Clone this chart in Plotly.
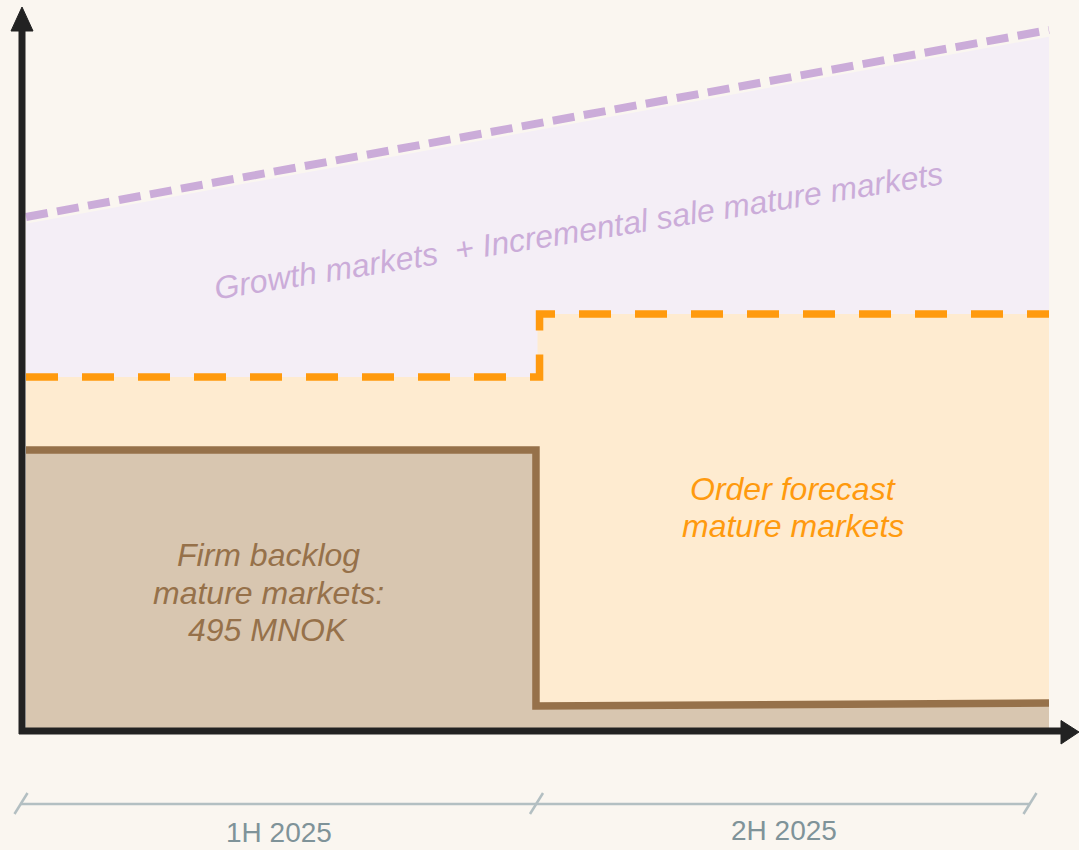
import plotly.graph_objects as go

# ---------------- data (schematic units, baseline = 0) ----------------
periods = ["1H 2025", "2H 2025"]
period_edges = [0, 1, 2]
backlog_1h = 278            # firm backlog level in 1H
backlog_2h = [22, 25]       # firm backlog level in 2H (start, end)
order_forecast = [351, 414] # order forecast level 1H, 2H
growth_total = [511, 698]   # growth + incremental (start, end)

backlog_label = ["Firm backlog", "mature markets:", "495 MNOK"]
forecast_label = ["Order forecast", "mature markets"]
growth_label = "Growth markets\u00a0\u00a0+ Incremental sale mature markets"

# ---------------- styling ----------------
BG = "#FAF6F0"
PURPLE_FILL = "#F4EEF6"
PURPLE = "#CBACD9"
ORANGE_FILL = "#FEEBD0"
ORANGE = "#FF9A0E"
BROWN_FILL = "#D8C6B0"
BROWN = "#96714A"
AXIS = "#222222"
GREY_LINE = "#B3BFC2"
GREY_TEXT = "#7F9399"
FONT = "Liberation Sans, Arial, sans-serif"

W, H = 1079, 850
X0_PX, UNIT_PX = 26, 511.5   # pixel of x=0, pixels per period
BASE_PX = 728                # pixel of y=0


def X(px):
    return (px - X0_PX) / UNIT_PX


def Y(py):
    return BASE_PX - py


x_start, x_mid, x_end = period_edges

fig = go.Figure()

# purple area (growth) down to baseline
fig.add_trace(go.Scatter(
    x=[x_start, x_end, x_end, x_start], y=[growth_total[0], growth_total[1], 0, 0],
    fill="toself", fillcolor=PURPLE_FILL, line=dict(width=0), mode="lines",
    hoverinfo="skip", showlegend=False))
# orange area (forecast)
fig.add_trace(go.Scatter(
    x=[x_start, x_mid, x_mid, x_end, x_end, x_start],
    y=[order_forecast[0], order_forecast[0], order_forecast[1], order_forecast[1], 0, 0],
    fill="toself", fillcolor=ORANGE_FILL, line=dict(width=0), mode="lines",
    hoverinfo="skip", showlegend=False))
# brown area (backlog)
fig.add_trace(go.Scatter(
    x=[x_start, x_mid, x_mid, x_end, x_end, x_start],
    y=[backlog_1h, backlog_1h, backlog_2h[0], backlog_2h[1], 0, 0],
    fill="toself", fillcolor=BROWN_FILL, line=dict(width=0), mode="lines",
    hoverinfo="skip", showlegend=False))

# purple dashed line with background halo
fig.add_trace(go.Scatter(
    x=[x_start, x_end], y=growth_total, mode="lines",
    line=dict(color=BG, width=13), hoverinfo="skip", showlegend=False))
fig.add_trace(go.Scatter(
    x=[x_start, x_end], y=growth_total, mode="lines",
    line=dict(color=PURPLE, width=8, dash="22px,9.5px"), hoverinfo="skip", showlegend=False))

# orange dashed step
fig.add_trace(go.Scatter(
    x=[x_start, x_mid + 0.004, x_mid + 0.004, x_end],
    y=[order_forecast[0], order_forecast[0], order_forecast[1], order_forecast[1]],
    mode="lines", line=dict(color=ORANGE, width=7.5, dash="32px,24px"),
    hoverinfo="skip", showlegend=False))

# brown step line
fig.add_trace(go.Scatter(
    x=[x_start, x_mid - 0.003, x_mid - 0.003, x_end],
    y=[backlog_1h, backlog_1h, backlog_2h[0], backlog_2h[1]],
    mode="lines", line=dict(color=BROWN, width=7.5),
    hoverinfo="skip", showlegend=False))

shapes = []
# axes
shapes.append(dict(type="line", xref="x", yref="y", x0=X(22), x1=X(22), y0=Y(734), y1=Y(28),
                   line=dict(color=AXIS, width=7)))
shapes.append(dict(type="line", xref="x", yref="y", x0=X(19), x1=X(1064), y0=Y(731), y1=Y(731),
                   line=dict(color=AXIS, width=7)))


def tri(pts):
    d = "M " + " L ".join(f"{X(a)},{Y(b)}" for a, b in pts) + " Z"
    return dict(type="path", xref="x", yref="y", path=d, fillcolor=AXIS,
                line=dict(color=AXIS, width=1))


shapes.append(tri([(22, 7), (11, 31), (33, 31)]))
shapes.append(tri([(1079, 732), (1061, 720.5), (1061, 744)]))

# timeline
tl_left, tl_right = 21, 1030
shapes.append(dict(type="line", xref="x", yref="y", x0=X(tl_left), x1=X(tl_right), y0=Y(804), y1=Y(804),
                   line=dict(color=GREY_LINE, width=2.5)))
for tx in [tl_left, X0_PX + UNIT_PX * x_mid - 1, tl_right]:
    shapes.append(dict(type="line", xref="x", yref="y", x0=X(tx - 6.5), x1=X(tx + 6.5),
                       y0=Y(814), y1=Y(793), line=dict(color=GREY_LINE, width=2.5)))

annotations = []
seg_centers = [(tl_left + X0_PX + UNIT_PX * x_mid) / 2, (X0_PX + UNIT_PX * x_mid + tl_right) / 2]
for lbl, cx, cy in zip(periods, seg_centers, [832, 830]):
    annotations.append(dict(x=X(cx), y=Y(cy), xref="x", yref="y", text=lbl, showarrow=False,
                            xanchor="center", yanchor="middle",
                            font=dict(family=FONT, size=28, color=GREY_TEXT)))

for i, line in enumerate(backlog_label):
    annotations.append(dict(x=X(268), y=Y(555 + 37.5 * i), xref="x", yref="y",
                            text=f"<i>{line}</i>", showarrow=False, xanchor="center", yanchor="middle",
                            font=dict(family=FONT, size=32, color=BROWN)))
for i, line in enumerate(forecast_label):
    annotations.append(dict(x=X(793), y=Y(489 + 36.5 * i), xref="x", yref="y",
                            text=f"<i>{line}</i>", showarrow=False, xanchor="center", yanchor="middle",
                            font=dict(family=FONT, size=32, color=ORANGE)))
annotations.append(dict(x=X(578), y=Y(231), xref="x", yref="y", text=f"<i>{growth_label}</i>",
                        showarrow=False, xanchor="center", yanchor="middle", textangle=-9,
                        font=dict(family=FONT, size=32, color=PURPLE)))

fig.update_layout(
    width=W, height=H, autosize=False,
    margin=dict(l=0, r=0, t=0, b=0, pad=0),
    paper_bgcolor=BG, plot_bgcolor=BG,
    xaxis=dict(range=[X(0), X(W)], visible=False, fixedrange=True),
    yaxis=dict(range=[Y(H), Y(0)], visible=False, fixedrange=True),
    shapes=shapes, annotations=annotations, showlegend=False,
)

fig.write_html("out.html", config={"displayModeBar": False})
